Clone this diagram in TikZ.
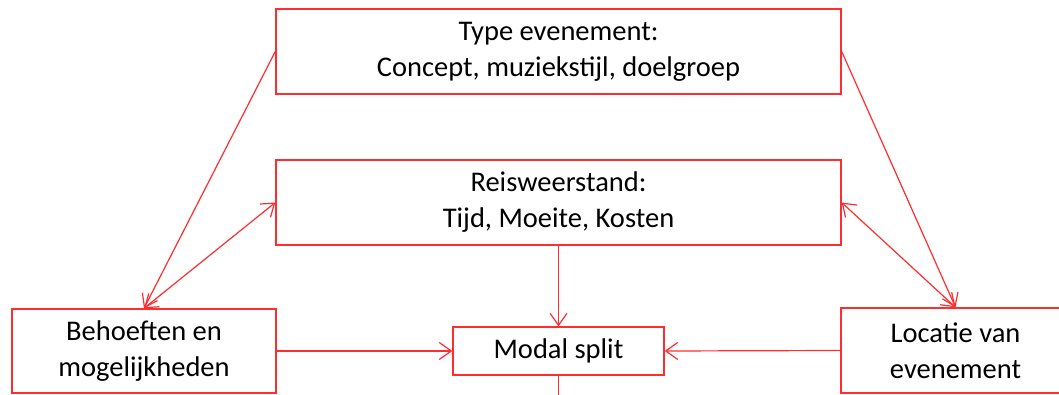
\documentclass[tikz,border=0pt]{standalone}
\usepackage{fontspec}
\setmainfont{Carlito}
\usetikzlibrary{arrows.meta}
\definecolor{lijnrood}{RGB}{255,45,45}
\tikzset{
	%stijl van de blokken en de pijlen
	blok/.style = {rectangle, draw=lijnrood, line width=1.4pt,
                           align=center, inner sep=0pt,
                           font=\fontsize{28.5}{36}\selectfont},
	pijl/.style = {draw=lijnrood, line width=1.2pt}
}

\begin{document}
\begin{tikzpicture}[x=1pt, y=1pt, >={Straight Barb[length=12pt,width=17pt]}]
	\useasboundingbox (0,0) rectangle (1059,394);
	%nodes
	\node[blok, minimum width=565pt, minimum height=85pt] (type) at (558.5, 342.5) {Type evenement:\\Concept, muziekstijl, doelgroep};
	\node[blok, minimum width=565pt, minimum height=85pt] (reis) at (558.5, 191.5) {Reisweerstand:\\Tijd, Moeite, Kosten};
	\node[blok, minimum width=264pt, minimum height=84pt] (behoefte) at (144, 43) {Behoeften en\\mogelijkheden};
	\node[blok, minimum width=211pt, minimum height=48pt] (modal) at (558.5, 43) {Modal split};
	\node[blok, minimum width=229pt, minimum height=85pt] (locatie) at (955.5, 43.5) {Locatie van\\evenement};
	\coordinate (onder) at (558.5, -10);
	%arrows
	\draw[pijl, ->] (type.west)     -- (behoefte.north);
	\draw[pijl, <->] (behoefte.north) -- (reis.west);
	\draw[pijl, ->] (type.east)     -- (locatie.north);
	\draw[pijl, <->] (reis.east)     -- (locatie.north);
	\draw[pijl, ->] (reis.south)    -- (modal.north);
	\draw[pijl, ->] (behoefte.east) -- (modal.west);
	\draw[pijl, ->] (locatie.west)  -- (modal.east);
	\draw[pijl] (modal.south) -- (onder);
\end{tikzpicture}
\end{document}
